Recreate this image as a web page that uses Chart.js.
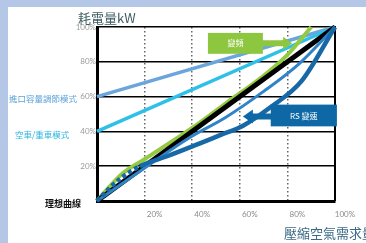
<!DOCTYPE html>
<html>
<head>
<meta charset="utf-8">
<script src="https://cdn.jsdelivr.net/npm/chart.js@4.4.0/dist/chart.umd.min.js"></script>
<style>
html, body { margin: 0; padding: 0; background: #b4c7e7; }
#wrap { width: 366px; height: 243px; }
</style>
</head>
<body>
<div id="wrap"><canvas id="chart" width="366" height="243"></canvas></div>
<script>
// axis ticks (percent)
const xTicks = [0, 20, 40, 60, 80, 100];
const yTicks = [0, 20, 40, 60, 80, 100];

// series: load % -> power %
const idealLoad = [0, 100];
const idealPower = [0, 100];
const inletLoad = [0, 100];
const inletPower = [60, 100];
const loadUnloadLoad = [0, 100];
const loadUnloadPower = [40, 100];
const vfdLoad = [0, 10, 20, 40, 54, 70, 80, 90];
const vfdPower = [0, 15, 24, 42, 56, 72, 84, 100];
const rsLoad = [0, 5, 10, 18, 30, 43, 52, 61, 73, 86, 100];
const rsPower = [0, 7, 13, 20, 26, 33, 38, 43, 54, 69, 100];
const rsThinLoad = [0, 20, 39, 54, 70, 85, 100];
const rsThinPower = [0, 19, 36.5, 48, 63, 79, 100];

const pts = (xs, ys) => xs.map((x, i) => ({ x: x, y: ys[i] }));

const cjk = '"Noto Sans CJK TC", "Noto Sans CJK SC", sans-serif';

// background panel
const panelPlugin = {
    id: 'panel',
    beforeDraw(chart) {
        const ctx = chart.ctx;
        ctx.save();
        ctx.fillStyle = '#b4c7e7';
        ctx.fillRect(0, 0, chart.width, chart.height);
        ctx.fillStyle = '#ffffff';
        ctx.fillRect(8, 7, chart.width - 8, chart.height - 7);
        ctx.restore();
    },
    beforeDatasetsDraw(chart) {
        // right frame line
        const a = chart.chartArea;
        const ctx = chart.ctx;
        ctx.save();
        ctx.strokeStyle = '#000';
        ctx.lineWidth = 2;
        ctx.beginPath();
        ctx.moveTo(a.right, a.top - 1);
        ctx.lineTo(a.right, a.bottom);
        ctx.stroke();
        ctx.restore();
    }
};

function drawArrow(ctx, x0, x1, y, shaft, head, headLen, color) {
    const dir = x1 > x0 ? 1 : -1;
    const hx = x1 - dir * headLen;
    ctx.fillStyle = color;
    ctx.beginPath();
    ctx.moveTo(x0, y - shaft / 2);
    ctx.lineTo(hx, y - shaft / 2);
    ctx.lineTo(hx, y - head / 2);
    ctx.lineTo(x1, y);
    ctx.lineTo(hx, y + head / 2);
    ctx.lineTo(hx, y + shaft / 2);
    ctx.lineTo(x0, y + shaft / 2);
    ctx.closePath();
    ctx.fill();
}

// callouts and labels
const labelPlugin = {
    id: 'labels',
    afterDatasetsDraw(chart) {
        const ctx = chart.ctx;
        const xs = chart.scales.x;
        const ys = chart.scales.y;
        const X = v => xs.getPixelForValue(v);
        const Y = v => ys.getPixelForValue(v);
        ctx.save();

        // VFD callout
        const gx0 = X(46.6), gx1 = X(69.7), gy0 = Y(96.6), gy1 = Y(84.6);
        ctx.fillStyle = '#8dc63f';
        ctx.fillRect(gx0, gy0, gx1 - gx0, gy1 - gy0);
        drawArrow(ctx, gx1 - 1, X(82), (gy0 + gy1) / 2, 6, 13, 9, '#8dc63f');
        ctx.fillStyle = '#ffffff';
        ctx.font = '8px ' + cjk;
        ctx.textAlign = 'center';
        ctx.textBaseline = 'middle';
        ctx.fillText('變頻', (gx0 + gx1) / 2, (gy0 + gy1) / 2);

        // RS callout
        const bx0 = X(73), bx1 = X(100.8), by0 = Y(55.4), by1 = Y(42.9);
        ctx.fillStyle = '#0d68a5';
        ctx.fillRect(bx0, by0, bx1 - bx0, by1 - by0);
        drawArrow(ctx, bx0 + 1, X(61.3), Y(48.6), 6, 14, 10, '#0d68a5');
        ctx.fillStyle = '#ffffff';
        ctx.font = '8px ' + cjk;
        ctx.fillText('RS 變速', (bx0 + bx1) / 2, (by0 + by1) / 2);

        // left mode labels
        ctx.textAlign = 'left';
        ctx.font = '8.5px ' + cjk;
        ctx.fillStyle = '#5fa3d8';
        ctx.fillText('進口容量調節模式', 9, Y(60) + 2);
        ctx.fillStyle = '#2bb6e0';
        ctx.fillText('空車/重車模式', 15, Y(40) + 3);
        ctx.fillStyle = '#111';
        ctx.font = 'bold 9px ' + cjk;
        ctx.fillText('理想曲線', 45, Y(0) + 3);

        // axis titles
        ctx.font = '13px ' + cjk;
        ctx.fillStyle = '#3f5d62';
        ctx.fillText('耗電量kW', 78, 18);
        ctx.fillStyle = '#3b6a85';
        ctx.fillText('壓縮空氣需求量', 284, 233);
        ctx.restore();
    }
};

new Chart(document.getElementById('chart'), {
    type: 'line',
    data: {
        datasets: [
            {
                label: '進口容量調節模式',
                data: pts(inletLoad, inletPower),
                borderColor: '#6aa6dc',
                borderWidth: 3.5,
                order: 6
            },
            {
                label: '空車/重車模式',
                data: pts(loadUnloadLoad, loadUnloadPower),
                borderColor: '#2ec0e8',
                borderWidth: 3.5,
                order: 5
            },
            {
                label: '變頻',
                data: pts(vfdLoad, vfdPower),
                borderColor: '#94c940',
                borderWidth: 4,
                cubicInterpolationMode: 'monotone',
                order: 4
            },
            {
                label: '理想曲線',
                data: pts(idealLoad, idealPower),
                borderColor: '#000000',
                borderWidth: 5,
                order: 3
            },
            {
                label: 'RS',
                data: pts(rsThinLoad, rsThinPower),
                borderColor: '#2f84c8',
                borderWidth: 3,
                cubicInterpolationMode: 'monotone',
                order: 2
            },
            {
                label: 'RS 變速',
                data: pts(rsLoad, rsPower),
                borderColor: '#1768a6',
                borderWidth: 4.5,
                cubicInterpolationMode: 'monotone',
                segment: {
                    borderDash: ctx => ctx.p0DataIndex < 3 ? [4, 3] : undefined
                },
                order: 1
            }
        ]
    },
    options: {
        responsive: false,
        animation: false,
        devicePixelRatio: 1,
        clip: false,
        elements: { point: { radius: 0 }, line: { borderCapStyle: 'butt' } },
        layout: { padding: { left: 0, top: 27, right: 31, bottom: 0 } },
        plugins: {
            legend: { display: false },
            tooltip: { enabled: false }
        },
        scales: {
            x: {
                type: 'linear',
                min: 0,
                max: 100,
                afterFit: s => { s.height = 42; },
                afterBuildTicks: s => { s.ticks = xTicks.map(v => ({ value: v })); },
                ticks: {
                    callback: v => v === 0 ? '' : v + '%',
                    color: '#8a8a8a',
                    font: { family: 'Lato, sans-serif', size: 8 },
                    labelOffset: 10,
                    padding: 9,
                    maxRotation: 0
                },
                grid: {
                    color: ctx => (ctx.tick && (ctx.tick.value === 0 || ctx.tick.value === 100)) ? 'rgba(0,0,0,0)' : '#666',
                    lineWidth: 1.5,
                    drawTicks: false
                },
                border: { color: '#000', width: 3, dash: [1.5, 2.5] }
            },
            y: {
                min: 0,
                max: 100,
                afterFit: s => { s.width = 97; },
                afterBuildTicks: s => { s.ticks = yTicks.map(v => ({ value: v })); },
                ticks: {
                    callback: v => v === 0 ? '' : v + '%',
                    color: '#9a9a9a',
                    font: { family: 'Lato, sans-serif', size: 8 },
                    padding: 1
                },
                grid: {
                    color: '#000',
                    lineWidth: 1.5,
                    drawTicks: false
                },
                border: { color: '#000', width: 3 }
            }
        }
    },
    plugins: [panelPlugin, labelPlugin]
});
</script>
</body>
</html>
